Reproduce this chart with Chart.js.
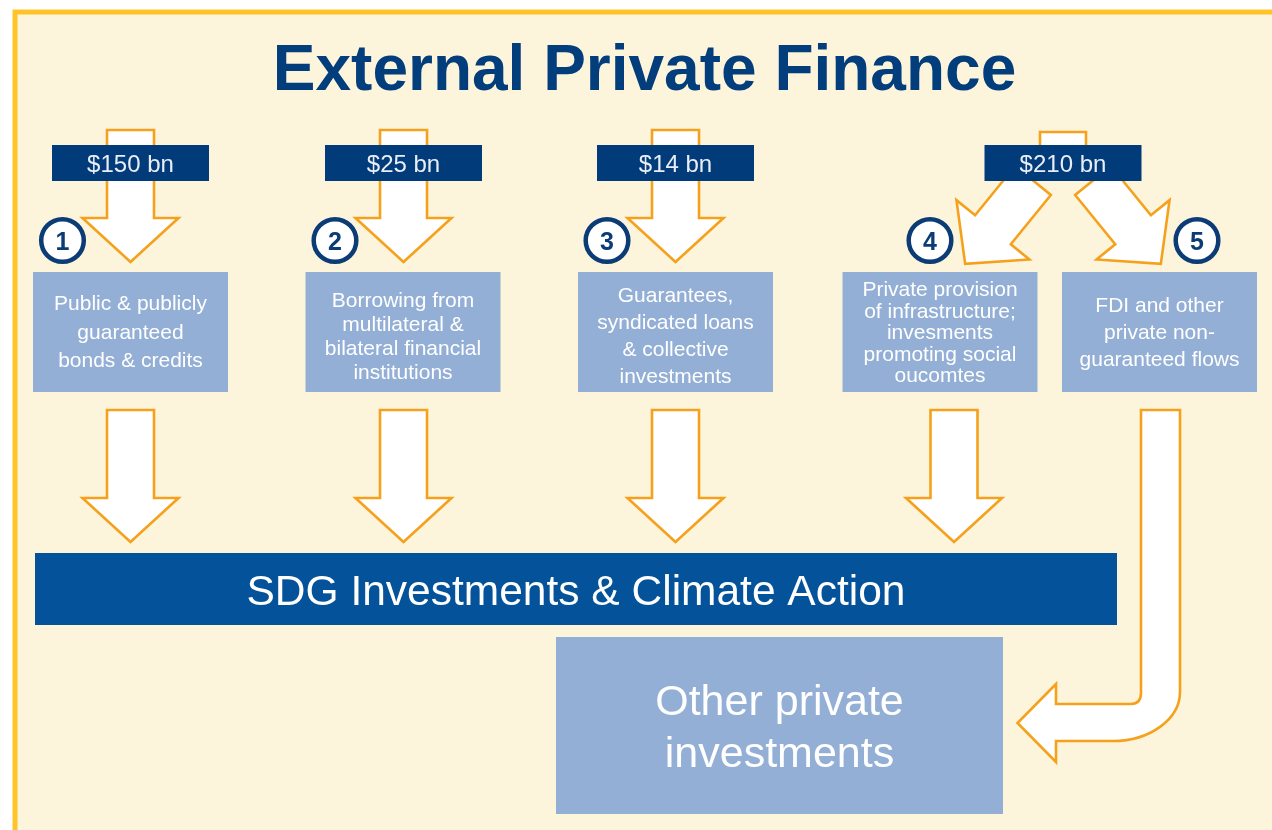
<!DOCTYPE html>
<html>
<head>
<meta charset="utf-8">
<title>External Private Finance</title>
<script src="https://cdn.jsdelivr.net/npm/chart.js@4.4.0/dist/chart.umd.min.js"></script>
<style>
  html, body { margin: 0; padding: 0; background: #ffffff; }
  #wrap { width: 1272px; height: 830px; }
</style>
</head>
<body>
<div id="wrap"><canvas id="flowChart" width="1272" height="830"></canvas></div>
<script>
/* ── Data ─────────────────────────────────────────────────────────────── */
const TITLE = 'External Private Finance';
const steps = [1, 2, 3, 4, 5];
const flowLabels = [
  ['Public & publicly', 'guaranteed', 'bonds & credits'],
  ['Borrowing from', 'multilateral &', 'bilateral financial', 'institutions'],
  ['Guarantees,', 'syndicated loans', '& collective', 'investments'],
  ['Private provision', 'of infrastructure;', 'invesments', 'promoting social', 'oucomtes'],
  ['FDI and other', 'private non-', 'guaranteed flows']
];
const amounts = [150, 25, 14, 210];              // $ bn
const amountFlows = [[0], [1], [2], [3, 4]];     // flows fed by each amount
const sdgLabel = 'SDG Investments & Climate Action';
const sdgFlows = [0, 1, 2, 3];
const otherLabel = ['Other private', 'investments'];

/* ── Layout (diagram units, mapped through the chart scales) ──────────── */
const COL_X      = [130.5, 403, 675.5, 940, 1159.5];
const BOX        = { w: 195, top: 272, bottom: 392 };
const BOX_LINE_H = [28.5, 24, 27, 21.5, 27];
const BOX_TEXT_Y = [333, 337, 336.5, 333.5, 333];
const AMT_X      = [130.5, 403.5, 675.5, 1063];
const AMT        = { w: 157, top: 145, bottom: 181 };
const STEP_X     = [62.5, 335, 607, 930, 1197];
const STEP_Y     = 240.5;
const DOWN_X     = [130.5, 403.5, 675.5, 954];
const SDG        = { left: 35, right: 1117, top: 553, bottom: 625 };
const OTHER      = { left: 556, right: 1003, top: 637, bottom: 814 };

const NAVY   = '#023b79';
const ORANGE = '#f5a11c';
const LIGHT  = '#93afd6';
const FONT   = 'Arial, "Liberation Sans", sans-serif';

/* ── Drawing helpers ──────────────────────────────────────────────────── */
function polygon(ctx, pts) {
  ctx.beginPath();
  pts.forEach((p, i) => i ? ctx.lineTo(p[0], p[1]) : ctx.moveTo(p[0], p[1]));
  ctx.closePath();
  ctx.fillStyle = '#ffffff';
  ctx.fill();
  ctx.lineWidth = 2.6;
  ctx.lineJoin = 'miter';
  ctx.strokeStyle = ORANGE;
  ctx.stroke();
}

// block arrow from base centre (bx,by) along unit direction (dx,dy)
function blockArrow(ctx, P, bx, by, dx, dy, shaftLen, headLen, shaftW, headW) {
  const px = -dy, py = dx;
  const pt = (u, v) => P(bx + dx * u + px * v, by + dy * u + py * v);
  polygon(ctx, [
    pt(0, -shaftW / 2), pt(shaftLen, -shaftW / 2), pt(shaftLen, -headW / 2),
    pt(shaftLen + headLen, 0),
    pt(shaftLen, headW / 2), pt(shaftLen, shaftW / 2), pt(0, shaftW / 2)
  ]);
}

const diagramPlugin = {
  id: 'diagram',
  afterDraw(chart) {
    const ctx = chart.ctx;
    const xs = chart.scales.x, ys = chart.scales.y;
    const X = v => xs.getPixelForValue(v);
    const Y = v => ys.getPixelForValue(v);
    const P = (x, y) => [X(x), Y(y)];
    const rect = (l, t, r, b, color) => {
      ctx.fillStyle = color;
      ctx.fillRect(X(l), Y(t), X(r) - X(l), Y(b) - Y(t));
    };

    ctx.save();

    /* frame */
    rect(0, 0, 1272, 830, '#ffffff');
    rect(15, 12, 1272, 830, '#fdf4dc');
    ctx.strokeStyle = '#ffc528';
    ctx.lineWidth = 5;
    ctx.beginPath();
    ctx.moveTo(X(15), Y(830)); ctx.lineTo(X(15), Y(12)); ctx.lineTo(X(1272), Y(12));
    ctx.stroke();

    /* title */
    ctx.fillStyle = '#023d7c';
    ctx.font = 'bold 64px ' + FONT;
    ctx.textAlign = 'center';
    ctx.textBaseline = 'alphabetic';
    ctx.fillText(TITLE, X(644.5), Y(90));

    /* arrows from the amount labels */
    amounts.forEach((a, i) => {
      const targets = amountFlows[i];
      if (targets.length === 1) {
        blockArrow(ctx, P, AMT_X[i], 130, 0, 1, 88, 44, 47, 96);
      } else {
        polygon(ctx, [P(AMT_X[i] - 23, 132), P(AMT_X[i] + 23, 132), P(AMT_X[i] + 23, 170), P(AMT_X[i] - 23, 170)]);
        blockArrow(ctx, P, AMT_X[i] - 30, 180.5, -0.631, 0.776, 63.5, 44, 46, 94);
        blockArrow(ctx, P, AMT_X[i] + 30, 180.5, 0.631, 0.776, 63.5, 44, 46, 94);
      }
    });

    /* amount labels */
    amounts.forEach((a, i) => {
      rect(AMT_X[i] - AMT.w / 2, AMT.top, AMT_X[i] + AMT.w / 2, AMT.bottom, NAVY);
      ctx.fillStyle = '#e9eef6';
      ctx.font = '24px ' + FONT;
      ctx.textAlign = 'center';
      ctx.textBaseline = 'alphabetic';
      ctx.fillText('$' + a + ' bn', X(AMT_X[i]), Y(172));
    });

    /* step circles */
    steps.forEach((s, i) => {
      ctx.beginPath();
      ctx.arc(X(STEP_X[i]), Y(STEP_Y), (X(21.3) - X(0)), 0, Math.PI * 2);
      ctx.fillStyle = '#ffffff';
      ctx.fill();
      ctx.lineWidth = 4.5;
      ctx.strokeStyle = '#0b3c76';
      ctx.stroke();
      ctx.fillStyle = '#0b3c76';
      ctx.font = 'bold 25px ' + FONT;
      ctx.textAlign = 'center';
      ctx.textBaseline = 'alphabetic';
      ctx.fillText(String(s), X(STEP_X[i]), Y(STEP_Y + 9.5));
    });

    /* flow boxes */
    flowLabels.forEach((lines, i) => {
      rect(COL_X[i] - BOX.w / 2, BOX.top, COL_X[i] + BOX.w / 2, BOX.bottom, LIGHT);
      ctx.fillStyle = '#ffffff';
      ctx.font = '21px ' + FONT;
      ctx.textAlign = 'center';
      ctx.textBaseline = 'middle';
      const lh = BOX_LINE_H[i];
      const y0 = BOX_TEXT_Y[i] - lh * (lines.length - 1) / 2;
      lines.forEach((t, k) => ctx.fillText(t, X(COL_X[i]), Y(y0 + k * lh)));
    });

    /* arrows into SDG bar */
    sdgFlows.forEach(i => blockArrow(ctx, P, DOWN_X[i], 410, 0, 1, 88, 44, 47, 96));

    /* SDG bar */
    rect(SDG.left, SDG.top, SDG.right, SDG.bottom, '#03529a');
    ctx.fillStyle = '#ffffff';
    ctx.font = '42.5px ' + FONT;
    ctx.textAlign = 'center';
    ctx.textBaseline = 'alphabetic';
    ctx.fillText(sdgLabel, X((SDG.left + SDG.right) / 2), Y(605));

    /* other private investments */
    rect(OTHER.left, OTHER.top, OTHER.right, OTHER.bottom, LIGHT);
    ctx.fillStyle = '#ffffff';
    ctx.font = '43px ' + FONT;
    otherLabel.forEach((t, k) => ctx.fillText(t, X((OTHER.left + OTHER.right) / 2), Y(715 + k * 52)));

    /* bent arrow from flow 5 to other investments */
    ctx.beginPath();
    ctx.moveTo(X(1141), Y(410));
    ctx.lineTo(X(1180), Y(410));
    ctx.lineTo(X(1180), Y(692));
    ctx.bezierCurveTo(X(1180), Y(719), X(1150), Y(741), X(1113), Y(741));
    ctx.lineTo(X(1056), Y(741));
    ctx.lineTo(X(1056), Y(762));
    ctx.lineTo(X(1017.5), Y(723));
    ctx.lineTo(X(1056), Y(684));
    ctx.lineTo(X(1056), Y(704));
    ctx.lineTo(X(1131), Y(704));
    ctx.quadraticCurveTo(X(1141), Y(704), X(1141), Y(693));
    ctx.closePath();
    ctx.fillStyle = '#ffffff';
    ctx.fill();
    ctx.lineWidth = 2.6;
    ctx.strokeStyle = ORANGE;
    ctx.stroke();

    ctx.restore();
  }
};

new Chart(document.getElementById('flowChart').getContext('2d'), {
  type: 'scatter',
  data: { datasets: [] },
  options: {
    responsive: false,
    animation: false,
    layout: { padding: 0 },
    plugins: { legend: { display: false }, tooltip: { enabled: false } },
    scales: {
      x: { type: 'linear', min: 0, max: 1272, display: false },
      y: { type: 'linear', min: 0, max: 830, reverse: true, display: false }
    }
  },
  plugins: [diagramPlugin]
});
</script>
</body>
</html>
